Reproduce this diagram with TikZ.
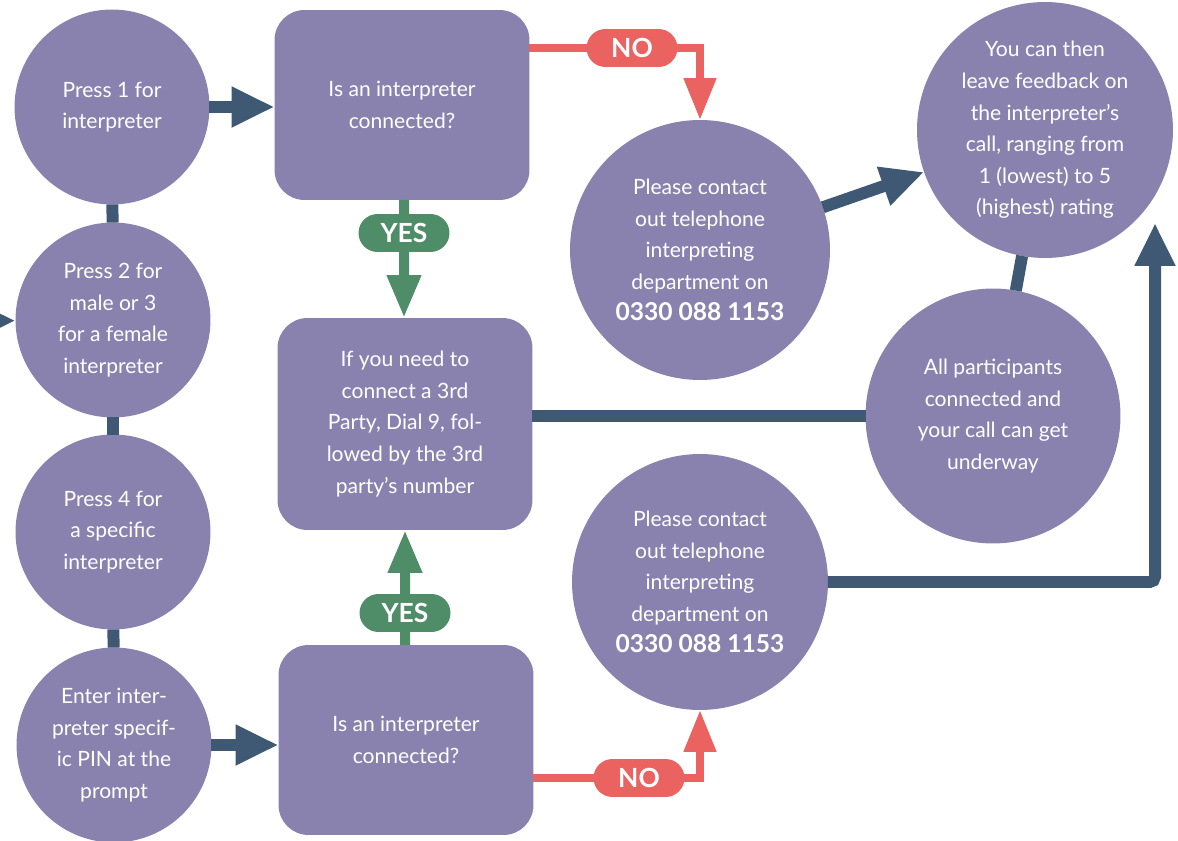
\documentclass[tikz,border=0pt]{standalone}
\usepackage{fontspec}
\setmainfont{Lato}
\usetikzlibrary{positioning}
\usetikzlibrary{calc}
\usetikzlibrary{arrows.meta}
\usetikzlibrary{shapes.misc}

\definecolor{stepfill}{RGB}{138,130,174}
\definecolor{linkblue}{RGB}{63,88,115}
\definecolor{noRed}{RGB}{235,99,96}
\definecolor{yesGreen}{RGB}{79,140,104}

\tikzset{
	every node/.style={align=center,outer sep=0pt,inner sep=0pt,text=white,
		font=\fontsize{12pt}{18pt}\selectfont},
	round/.style={circle,fill=stepfill,inner sep=-0.5cm,minimum size=#1},
	box/.style={rectangle,rounded corners=0.6cm,fill=stepfill,minimum width=5.1cm,minimum height=#1},
	link/.style={draw=linkblue,line width=0.24cm},
	go/.style={link,-{Triangle[width=0.76cm,length=0.86cm]}},
	pill/.style={rounded rectangle,minimum width=1.82cm,minimum height=0.76cm,
		font=\fontsize{15pt}{15pt}\selectfont\bfseries},
	nopill/.style={pill,fill=noRed},
	yespill/.style={pill,fill=yesGreen},
	noline/.style={draw=noRed,line width=0.16cm},
	noarrow/.style={noline,-{Triangle[width=0.62cm,length=0.84cm]}},
	yesline/.style={draw=yesGreen,line width=0.2cm},
	yesarrow/.style={yesline,-{Triangle[width=0.64cm,length=0.86cm]}},
}
\newcommand{\phoneno}{{\fontsize{14pt}{18pt}\selectfont\bfseries 0330 088 1153}}

\begin{document}
\begin{tikzpicture}[x=0.02cm,y=-0.02cm]
	\useasboundingbox (0,0) rectangle (1178,841);

	%left column of key presses.....................
	\node [round=3.9cm] (c1) at (112,107) {Press 1 for\\interpreter};
	\node [round=3.9cm] (c2) at (113,320) {Press 2 for\\male or 3\\for a female\\interpreter};
	\node [round=3.9cm] (c3) at (113,532) {Press 4 for\\a specific\\interpreter};
	\node [round=3.9cm] (c4) at (114,745) {Enter inter-\\preter specif-\\ic PIN at the\\prompt};

	\draw [link] (c1) -- (c2);
	\draw [link] (c2) -- (c3);
	\draw [link] (c3) -- (c4);

	%arrow coming in from the left......................
	\coordinate (offpage) at (-40,321);
	\draw [go] (offpage) -- (c2);

	%middle column...................
	\node [box=3.8cm] (r1) at (402,105) {Is an interpreter\\connected?};
	\node [box=4.24cm] (r2) at (405,424) {If you need to\\connect a 3rd\\Party, Dial 9, fol-\\lowed by the 3rd\\party's number};
	\node [box=3.8cm] (r3) at (406,740) {Is an interpreter\\connected?};

	\draw [go] (c1) -- (r1.west |- c1);
	\draw [go] (c4) -- (r3.west |- c4);

	%right side circles...................
	\node [round=5.2cm] (p1) at (700,250) {Please contact\\out telephone\\interpreting\\department on\\\phoneno};
	\node [round=5.12cm] (p2) at (700,582) {Please contact\\out telephone\\interpreting\\department on\\\phoneno};
	\node [round=5.12cm] (fb) at (1045,130) {You can then\\leave feedback on\\the interpreter's\\call, ranging from\\1 (lowest) to 5\\(highest) rating};
	\node [round=5.1cm] (ap) at (993,416) {All participants\\connected and\\your call can get\\underway};

	% YES branches....................
	\node [yespill] (yes1) at (404,233) {YES};
	\draw [yesline] (r1.south -| yes1) -- (yes1);
	\draw [yesarrow] (yes1) -- (r2.north -| yes1);

	\node [yespill] (yes2) at (405,613) {YES};
	\draw [yesline] (r3.north -| yes2) -- (yes2);
	\draw [yesarrow] (yes2) -- (r2.south -| yes2);

	% NO branches....................
	\node [nopill] (no1) at (632,48) {NO};
	\draw [noline] (r1.east |- no1) -- (no1);
	\draw [noarrow] (no1) -| (p1.north);

	\node [nopill] (no2) at (639,778) {NO};
	\draw [noline] (r3.east |- no2) -- (no2);
	\draw [noarrow] (no2) -| (p2.south);

	% links to the feedback circle...................
	\draw [go] (p1) -- (fb);
	\draw [link] (r2.east |- ap) -- (ap);
	\draw [link] (ap) -- (fb);
	\coordinate (fbin) at (1155,223);
	\draw [go,rounded corners=3pt] (p2) -| (fbin);

\end{tikzpicture}
\end{document}
